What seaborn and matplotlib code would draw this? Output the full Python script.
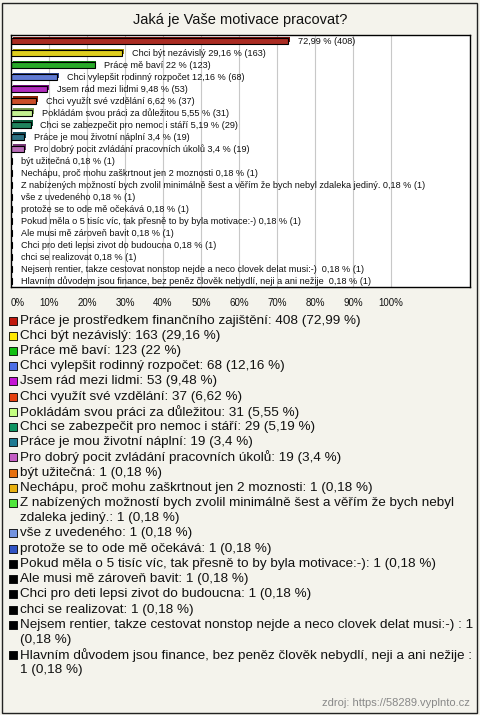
import matplotlib
matplotlib.use("Agg")
import matplotlib.pyplot as plt
import matplotlib.patheffects as pe
from matplotlib.colors import to_rgb
from matplotlib.patches import Rectangle
import pandas as pd
import seaborn as sns


title = "Jaká je Vaše motivace pracovat?"

answers = [
    "Práce je prostředkem finančního zajištění",
    "Chci být nezávislý",
    "Práce mě baví",
    "Chci vylepšit rodinný rozpočet",
    "Jsem rád mezi lidmi",
    "Chci využít své vzdělání",
    "Pokládám svou práci za důležitou",
    "Chci se zabezpečit pro nemoc i stáří",
    "Práce je mou životní náplní",
    "Pro dobrý pocit zvládání pracovních úkolů",
    "být užitečná",
    "Nechápu, proč mohu zaškrtnout jen 2 moznosti",
    "Z nabízených možností bych zvolil minimálně šest a věřím že bych nebyl zdaleka jediný.",
    "vše z uvedeného",
    "protože se to ode mě očekává",
    "Pokud měla o 5 tisíc víc, tak přesně to by byla motivace:-)",
    "Ale musi mě zároveň bavit",
    "Chci pro deti lepsi zivot do budoucna",
    "chci se realizovat",
    "Nejsem rentier, takze cestovat nonstop nejde a neco clovek delat musi:-) ",
    "Hlavním důvodem jsou finance, bez peněz člověk nebydlí, neji a ani nežije ",
]

counts = [408, 163, 123, 68, 53, 37, 31, 29, 19, 19,
          1, 1, 1, 1, 1, 1, 1, 1, 1, 1, 1]

percents = [72.99, 29.16, 22, 12.16, 9.48, 6.62, 5.55, 5.19, 3.4, 3.4,
            0.18, 0.18, 0.18, 0.18, 0.18, 0.18, 0.18, 0.18, 0.18, 0.18, 0.18]

colors = [
    "#c0180c", "#ffe800", "#12bf12", "#4d6fe6", "#c414d4",
    "#e5400e", "#c4ff80", "#0f9461", "#1f7a92", "#c45ec4",
    "#e6700e", "#e8b00e", "#50e63c", "#7393e0", "#2f52c4",
    "#000000", "#000000", "#000000", "#000000", "#000000", "#000000",
]

x_ticks = list(range(0, 101, 10))
source = "zdroj: https://58289.vyplnto.cz"


def fmt(p):
    return f"{p:g}".replace(".", ",")


df = pd.DataFrame({"answer": answers, "count": counts, "pct": percents})

sns.set_style("white")
plt.rcParams["font.family"] = ["Liberation Sans", "DejaVu Sans"]

W, H = 480, 715
fig = plt.figure(figsize=(W / 100, H / 100), dpi=100, facecolor="#f4f3ec")

# outer frame
fig.patches.append(Rectangle((2 / W, 2 / H), 475 / W, 710 / H, transform=fig.transFigure,
                             fill=False, edgecolor="#222222", linewidth=1.0))

fig.text(0.5, 1 - 20 / H, title, ha="center", va="center", fontsize=10.5, color="#111111")

# --------------------------------------
# BAR CHART
# --------------------------------------

ax = fig.add_axes([11 / W, 1 - 287 / H, 459 / W, 252 / H])
ax.set_facecolor("white")

sns.barplot(
    data=df,
    x="pct",
    y="answer",
    hue="answer",
    order=answers,
    hue_order=answers,
    palette=colors,
    legend=False,
    width=0.48,
    edgecolor="black",
    linewidth=0.8,
    orient="h",
    ax=ax,
)

for patch, c in zip(ax.patches, colors):
    dark = tuple(v * 0.6 for v in to_rgb(c))
    patch.set_path_effects([
        pe.SimplePatchShadow(offset=(1.3, 1.3), shadow_rgbFace=dark, alpha=1.0),
        pe.Normal(),
    ])

for i, (name, n, p) in enumerate(zip(answers, counts, percents)):
    label = f"{fmt(p)} % ({n})" if i == 0 else f"{name} {fmt(p)} % ({n})"
    ax.annotate(label, xy=(p, i), xytext=(7, 0), textcoords="offset points",
                ha="left", va="center", fontsize=6.6, color="#111111")

ax.set_xlim(0, 120.8)
ax.set_ylim(len(answers) - 0.5, -0.52)
ax.set_xticks(x_ticks)
ax.set_xticklabels([f"{t}%" for t in x_ticks], fontsize=7)
ax.get_xticklabels()[0].set_ha("left")
ax.tick_params(axis="x", length=0, pad=8, colors="#111111")
ax.set_yticks([])
ax.set_xlabel("")
ax.set_ylabel("")
ax.grid(axis="x", color="#c8c8c8", linewidth=0.8)
ax.set_axisbelow(True)
for s in ax.spines.values():
    s.set_visible(True)
    s.set_color("black")
    s.set_linewidth(1.0)

# --------------------------------------
# LEGEND
# --------------------------------------

lax = fig.add_axes([0, 0, 1, 1])
lax.set_xlim(0, W)
lax.set_ylim(H, 0)
lax.axis("off")
lax.patch.set_alpha(0)

renderer = fig.canvas.get_renderer()
legend_fs = 9.7
max_width = 456


def text_width(s):
    t = lax.text(0, 0, s, fontsize=legend_fs)
    w = t.get_window_extent(renderer).width
    t.remove()
    return w


def wrap(s):
    lines, cur = [], ""
    for word in s.split(" "):
        trial = word if cur == "" else cur + " " + word
        if cur and text_width(trial) > max_width:
            lines.append(cur)
            cur = word
        else:
            cur = trial
    lines.append(cur)
    return lines


y = 320.7
step = 15.2
for name, n, p, c in zip(answers, counts, percents, colors):
    lax.scatter([13], [y], marker="s", s=34, color=c, edgecolor="black", linewidth=0.6)
    for line in wrap(f"{name}: {n} ({fmt(p)} %)"):
        lax.text(20, y, line, ha="left", va="center", fontsize=legend_fs, color="#111111")
        y += step

fig.text(470 / W, 1 - 703 / H, source, ha="right", va="center", fontsize=8, color="#888888")

fig.savefig("out.png", dpi=100, facecolor=fig.get_facecolor())
